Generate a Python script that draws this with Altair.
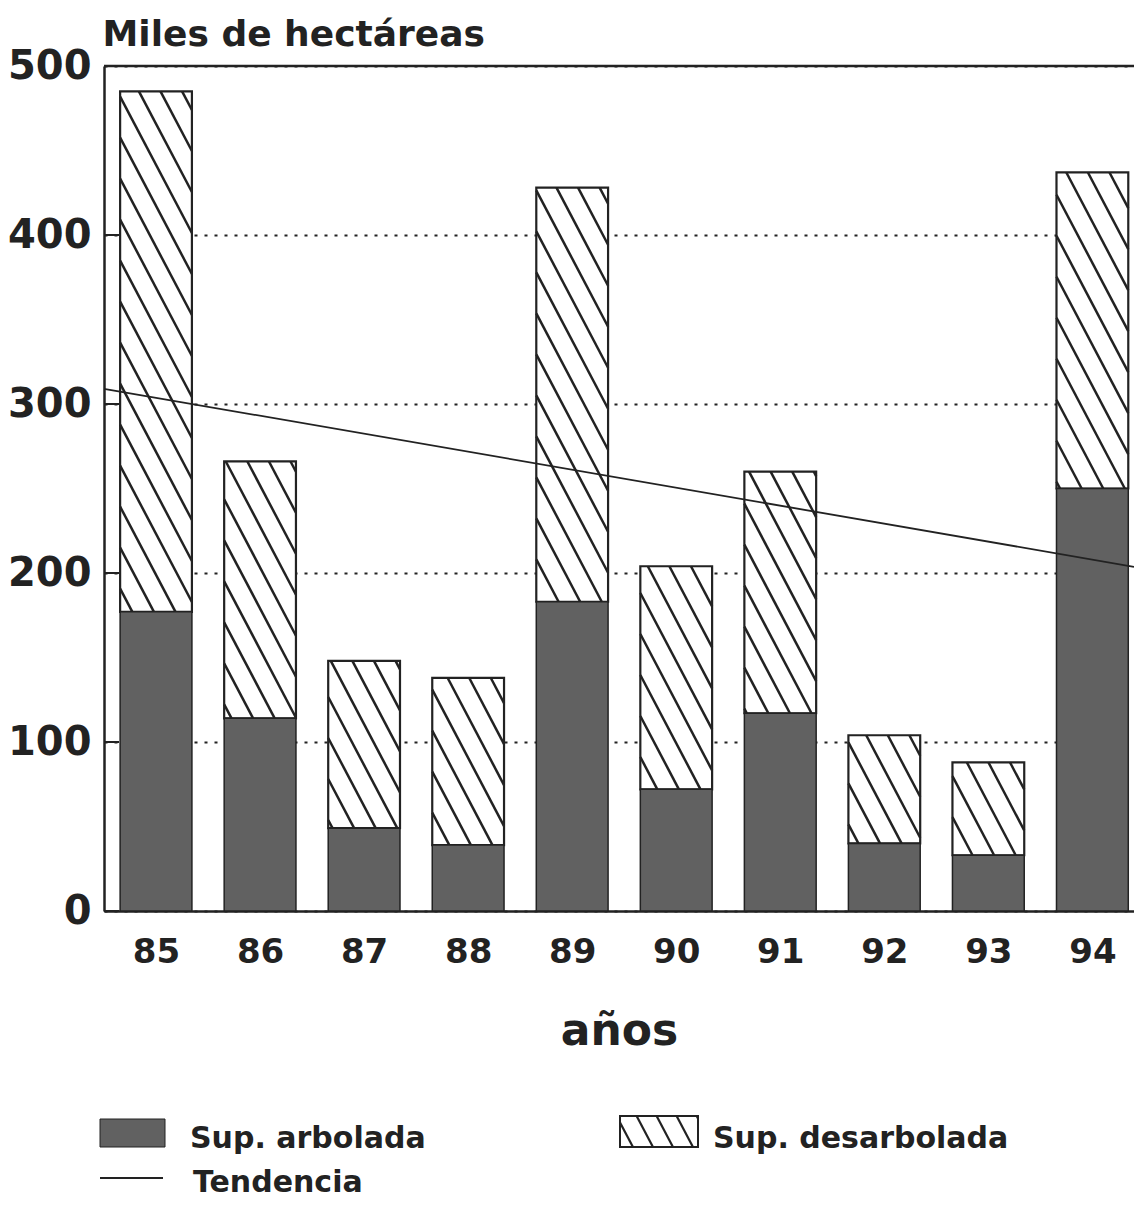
import math
import altair as alt
import pandas as pd

# ---- data ----
years = [85, 86, 87, 88, 89, 90, 91, 92, 93, 94]
arbolada = [177, 114, 49, 39, 183, 72, 117, 40, 33, 250]
total = [485, 266, 148, 138, 428, 204, 260, 104, 88, 437]
y_ticks = [0, 100, 200, 300, 400, 500]
legend_labels = ["Sup. arbolada", "Sup. desarbolada", "Tendencia"]
y_title = "Miles de hectáreas"
x_title = "años"

# ---- layout / style ----
W, H = 1030, 845
X0, X1 = 84.5, 94.4
YMAX = 500
BAR_HALF = 0.345
FONT = "DejaVu Sans"
INK = "#222222"
DARK = "#616161"
SLOPE, GAP = 1.9, 41.0
HATCH_W = 2.5

sx = W / (X1 - X0)
sy = H / YMAX


def hatch_px(L, R, T, B, slope=SLOPE, gap=GAP):
    """diagonal (top-left to bottom-right) hatch segments clipped to a pixel rect"""
    segs = []
    cmin = T - slope * R
    cmax = B - slope * L
    k = math.ceil(cmin / gap)
    while k * gap <= cmax:
        c = k * gap
        xa = max(L, (T - c) / slope)
        xb = min(R, (B - c) / slope)
        if xb - xa > 0.8:
            segs.append((xa, xa * slope + c, xb, xb * slope + c))
        k += 1
    return segs


df = pd.DataFrame({"year": years, "arbolada": arbolada, "total": total})

# hatch segments for the "desarbolada" part, expressed back in data units
rows = []
for yr, a, t in zip(years, arbolada, total):
    L = (yr - BAR_HALF - X0) * sx
    R = (yr + BAR_HALF - X0) * sx
    T = (YMAX - t) * sy
    B = (YMAX - a) * sy
    for (xa, ya, xb, yb) in hatch_px(L, R, T, B):
        rows.append({
            "hx": X0 + xa / sx, "hy": YMAX - ya / sy,
            "hx2": X0 + xb / sx, "hy2": YMAX - yb / sy,
        })
hatch_df = pd.DataFrame(rows)

xscale = alt.Scale(domain=[X0, X1], nice=False, zero=False)
yscale = alt.Scale(domain=[0, YMAX], nice=False)

x_axis = alt.Axis(
    values=years, format="d", title=x_title, grid=False, ticks=False,
    labelFont=FONT, labelFontSize=34, labelFontWeight="bold", labelColor=INK,
    labelPadding=24, labelFlush=False, labelOverlap=False,
    domainColor=INK, domainWidth=2.5,
    titleFont=FONT, titleFontSize=44, titleFontWeight="bold", titleColor=INK,
    titleX=515, titleY=133, titleBaseline="alphabetic", titleAnchor="start", titleAlign="center",
)
y_axis = alt.Axis(
    values=y_ticks, format="d", title=y_title, grid=True, ticks=False,
    gridColor=INK, gridDash=[3, 7], gridWidth=2,
    labelFont=FONT, labelFontSize=40, labelFontWeight="bold", labelColor=INK,
    labelPadding=13, labelBaseline="middle",
    domainColor=INK, domainWidth=2.5,
    titleFont=FONT, titleFontSize=36, titleFontWeight="bold", titleColor=INK,
    titleAngle=0, titleX=-2, titleY=-21, titleAlign="left", titleBaseline="alphabetic",
    titleAnchor="start",
)

base = alt.Chart(df).transform_calculate(
    x0=f"datum.year - {BAR_HALF}", x1=f"datum.year + {BAR_HALF}"
)

X = alt.X("x0:Q", scale=xscale, axis=x_axis)
X2 = alt.X2("x1:Q")

bar_arb = base.mark_bar(fill=DARK, stroke=INK, strokeWidth=1.5).encode(
    x=X, x2=X2,
    y=alt.Y("arbolada:Q", scale=yscale, axis=y_axis),
    y2=alt.Y2("zero:Q"),
).transform_calculate(zero="0")

bar_des = base.mark_bar(fill="white", strokeWidth=0).encode(
    x=X, x2=X2,
    y=alt.Y("total:Q", scale=yscale, axis=y_axis),
    y2=alt.Y2("arbolada:Q"),
)

hatch = alt.Chart(hatch_df).mark_rule(stroke=INK, strokeWidth=HATCH_W).encode(
    x=alt.X("hx:Q", scale=xscale, axis=x_axis),
    x2=alt.X2("hx2:Q"),
    y=alt.Y("hy:Q", scale=yscale, axis=y_axis),
    y2=alt.Y2("hy2:Q"),
)

bar_des_outline = base.mark_bar(fill="transparent", stroke=INK, strokeWidth=2.2).encode(
    x=X, x2=X2,
    y=alt.Y("total:Q", scale=yscale, axis=y_axis),
    y2=alt.Y2("arbolada:Q"),
)

trend = alt.Chart(df).transform_regression(
    "year", "total", extent=[X0, X1]
).mark_line(stroke=INK, strokeWidth=1.8).encode(
    x=alt.X("year:Q", scale=xscale, axis=x_axis),
    y=alt.Y("total:Q", scale=yscale, axis=y_axis),
)

ticks_df = pd.DataFrame({"v": y_ticks})
top_border = alt.Chart(ticks_df).transform_filter(
    alt.datum.v == YMAX
).mark_rule(stroke=INK, strokeWidth=2.5).encode(
    y=alt.Y("v:Q", scale=yscale, axis=y_axis),
    x=alt.value(0), x2=alt.value(W),
)
inner_ticks = alt.Chart(ticks_df).mark_rule(stroke=INK, strokeWidth=2).encode(
    y=alt.Y("v:Q", scale=yscale, axis=y_axis),
    x=alt.value(0), x2=alt.value(15),
)

# ---- legend (drawn below the plot) ----
leg_df = pd.DataFrame({"label": legend_labels})


def leg_text(label, x, y):
    return alt.Chart(leg_df).transform_filter(
        alt.datum.label == label
    ).mark_text(
        font=FONT, fontSize=30, fontWeight="bold", color=INK,
        align="left", baseline="alphabetic",
    ).encode(text="label:N", x=alt.value(x), y=alt.value(y))


one = alt.Chart(leg_df).transform_filter(alt.datum.label == legend_labels[0])

sw_arb = one.mark_rect(fill=DARK, stroke=INK, strokeWidth=1).encode(
    x=alt.value(-4), x2=alt.value(61), y=alt.value(1053), y2=alt.value(1081)
)
SWL, SWT, SWR, SWB = 516, 1050, 594, 1081
sw_des = one.mark_rect(fill="white", stroke=INK, strokeWidth=2).encode(
    x=alt.value(SWL), x2=alt.value(SWR), y=alt.value(SWT), y2=alt.value(SWB)
)
sw_hatch = [
    one.mark_rule(stroke=INK, strokeWidth=2.2).encode(
        x=alt.value(xa), y=alt.value(ya), x2=alt.value(xb), y2=alt.value(yb)
    )
    for (xa, ya, xb, yb) in hatch_px(SWL, SWR, SWT, SWB, slope=1.9, gap=38)
]
sw_trend = one.mark_rule(stroke=INK, strokeWidth=2).encode(
    x=alt.value(-4), x2=alt.value(59), y=alt.value(1112)
)

layers = [bar_des, hatch, bar_des_outline, bar_arb, inner_ticks, trend, top_border,
          sw_arb, sw_des, *sw_hatch, sw_trend,
          leg_text(legend_labels[0], 86, 1082),
          leg_text(legend_labels[1], 609, 1082),
          leg_text(legend_labels[2], 89, 1126)]

chart = alt.layer(*layers).properties(
    width=W, height=H,
    padding={"left": 96, "top": 58, "right": 0, "bottom": 290},
    autosize=alt.AutoSizeParams(type="none"),
    background="white",
).configure_view(strokeWidth=0)

chart.save("out.html", embed_options={"renderer": "svg", "actions": False})
